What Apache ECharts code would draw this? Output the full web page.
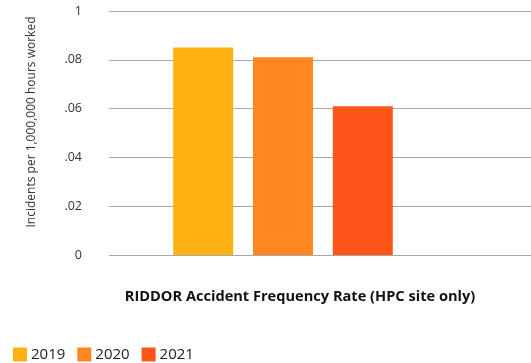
<!DOCTYPE html>
<html>
<head>
<meta charset="utf-8">
<script src="https://cdn.jsdelivr.net/npm/echarts@6/dist/echarts.min.js"></script>
<style>
  html, body { margin: 0; padding: 0; background: #fff; }
  #chart { width: 531px; height: 363px; }
</style>
</head>
<body>
<div id="chart"></div>
<script>
// Chart data
const category = 'RIDDOR Accident Frequency Rate (HPC site only)';
const years = ['2019', '2020', '2021'];
const rates = [0.085, 0.081, 0.061];
const yearColors = ['#FEB113', '#FE8720', '#FE5518'];
const tickLabels = ['0', '.02', '.04', '.06', '.08', '1'];
const axisTitle = 'Incidents per 1,000,000 hours worked';

const FONT = '"Open Sans", "Noto Sans", sans-serif';
const yMin = 0, yMax = 0.1, yStep = 0.02;

const chart = echarts.init(document.getElementById('chart'), null, { renderer: 'canvas' });

const series = years.map((y, i) => ({
  name: y,
  type: 'bar',
  xAxisIndex: 1,
  yAxisIndex: 1,
  data: [rates[i]],
  barWidth: 60,
  barGap: '33%',
  itemStyle: { color: yearColors[i] },
  emphasis: { disabled: true }
}));

chart.setOption({
  animation: false,
  textStyle: { fontFamily: FONT },
  title: {
    text: category,
    left: 295,
    textAlign: 'center',
    top: 284,
    textStyle: { fontFamily: FONT, fontSize: 14.6, fontWeight: 'bold', color: '#111' }
  },
  legend: {
    data: years,
    left: 8,
    top: 342,
    icon: 'rect',
    itemWidth: 14,
    itemHeight: 14,
    itemGap: 12,
    selectedMode: false,
    textStyle: { fontFamily: FONT, fontSize: 15, color: '#222', padding: [0, 0, 0, -1] }
  },
  graphic: [{
    type: 'text',
    x: 32,
    y: 122,
    rotation: Math.PI / 2,
    style: {
      text: axisTitle,
      font: '12px ' + FONT,
      fill: '#333',
      align: 'center',
      verticalAlign: 'middle'
    }
  }],
  grid: [
    // gridlines and tick labels span the full width
    { left: 109, right: 0, top: 11, bottom: 108 },
    // bars sit in a narrower band
    { left: 109, right: 74, top: 11, bottom: 108 }
  ],
  xAxis: [
    { gridIndex: 0, type: 'category', data: [category], show: false },
    { gridIndex: 1, type: 'category', data: [category], show: false }
  ],
  yAxis: [
    {
      gridIndex: 0,
      type: 'value',
      min: yMin,
      max: yMax,
      interval: yStep,
      axisLine: { show: false },
      axisTick: { show: false },
      splitLine: { lineStyle: { color: '#a8a8a8', width: 1 } },
      axisLabel: {
        margin: 27,
        fontFamily: FONT,
        fontSize: 12.5,
        color: '#333',
        formatter: v => tickLabels[Math.round(v / yStep)]
      }
    },
    {
      gridIndex: 1,
      type: 'value',
      min: yMin,
      max: yMax,
      interval: yStep,
      show: false,
      splitLine: { show: false }
    }
  ],
  series: series
});
</script>
</body>
</html>
